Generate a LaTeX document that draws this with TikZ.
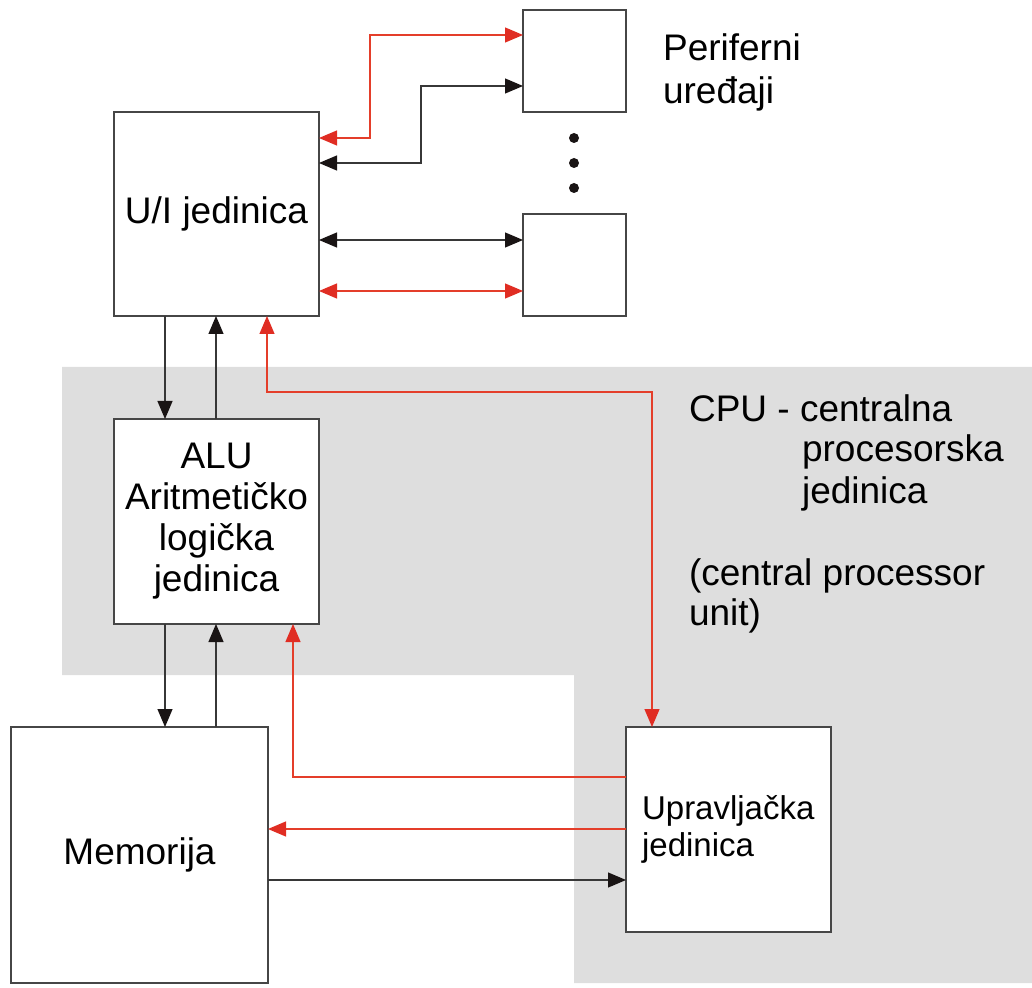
\documentclass[tikz,border=0pt]{standalone}
\usepackage{fontspec}
\setmainfont{Liberation Sans}
\usetikzlibrary{arrows.meta}
\definecolor{cpugray}{RGB}{222,222,222}
\definecolor{linecol}{RGB}{55,55,55}
\definecolor{headcol}{RGB}{25,20,20}
\definecolor{redcol}{RGB}{228,62,42}
\definecolor{redhead}{RGB}{224,45,35}
\definecolor{boxcol}{RGB}{70,70,70}
\begin{document}
\begin{tikzpicture}[x=0.5pt,y=-0.5pt,
  box/.style={draw=boxcol,line width=0.65pt,fill=white,inner sep=0pt,outer sep=0pt,align=center},
  txt/.style={font=\fontsize{18.5}{21}\selectfont},
  blk/.style={draw=linecol,line width=0.6pt,>={Triangle[length=9pt,width=7.5pt,fill=headcol,color=headcol]}},
  redl/.style={draw=redcol,line width=0.6pt,>={Triangle[length=9pt,width=7.5pt,fill=redhead,color=redhead]}},
  dotc/.style={circle,fill=headcol,inner sep=0pt,minimum size=5pt}]
\useasboundingbox (0,0) rectangle (1032,988);
\fill[cpugray] (62,367) -- (1032,367) -- (1032,983) -- (574,983) -- (574,675) -- (62,675) -- cycle;
% boxes
\node[box,txt,minimum width=102.5pt,minimum height=102pt] (ui) at (216.5,214) {U/I jedinica};
\node[box,txt,minimum width=102.5pt,minimum height=102.5pt,font=\fontsize{18.5}{20.5}\selectfont] (alu) at (216.5,521.5) {ALU\\Aritmetičko\\logička\\jedinica};
\node[box,txt,minimum width=128.5pt,minimum height=128pt] (mem) at (139.5,855) {Memorija};
\node[box,minimum width=102.5pt,minimum height=102.5pt] (upr) at (728.5,829.5) {};
\node[txt,font=\fontsize{16.5}{18.5}\selectfont,align=left,anchor=west] (uprt) at (635,829) {Upravljačka\\jedinica};
\node[box,minimum width=51.5pt,minimum height=51pt] (p1) at (574.5,61) {};
\node[box,minimum width=51.5pt,minimum height=51pt] (p2) at (574.5,265) {};
% dots
\node[dotc] (d1) at (574,138) {};
\node[dotc] (d2) at (574,163) {};
\node[dotc] (d3) at (574,188) {};
% labels
\node[txt,align=left,anchor=north west,font=\fontsize{18.5}{21.5}\selectfont] (per) at (656,27) {Periferni\\uređaji};
\node[txt,anchor=west] (cpu1) at (682,408) {CPU - centralna};
\node[txt,anchor=west,align=left,font=\fontsize{18.5}{21}\selectfont] (cpu2) at (795,473) {procesorska\\jedinica};
\node[txt,anchor=west,align=left,font=\fontsize{18.5}{20}\selectfont] (cpu3) at (682,596) {(central processor\\unit)};
% connectors U/I - peripherals
\draw[redl,<->] (ui.east|-0,138) -| (370,35) -- (p1.west|-0,35);
\draw[blk,<->] (ui.east|-0,163) -| (421,86) -- (p1.west|-0,86);
\draw[blk,<->] (ui.east|-0,240) -- (p2.west|-0,240);
\draw[redl,<->] (ui.east|-0,291) -- (p2.west|-0,291);
% U/I - ALU
\draw[blk,->] (ui.south-|165,0) -- (alu.north-|165,0);
\draw[blk,->] (alu.north-|216,0) -- (ui.south-|216,0);
% ALU - Memorija
\draw[blk,->] (alu.south-|165,0) -- (mem.north-|165,0);
\draw[blk,->] (mem.north-|216,0) -- (alu.south-|216,0);
% control unit
\draw[redl,<->] (upr.north-|652,0) -- (652,392) -| (ui.south-|267,0);
\draw[redl,->] (upr.west|-0,777) -| (alu.south-|293,0);
\draw[redl,->] (upr.west|-0,829) -- (mem.east|-0,829);
\draw[blk,->] (mem.east|-0,880) -- (upr.west|-0,880);
\end{tikzpicture}
\end{document}
